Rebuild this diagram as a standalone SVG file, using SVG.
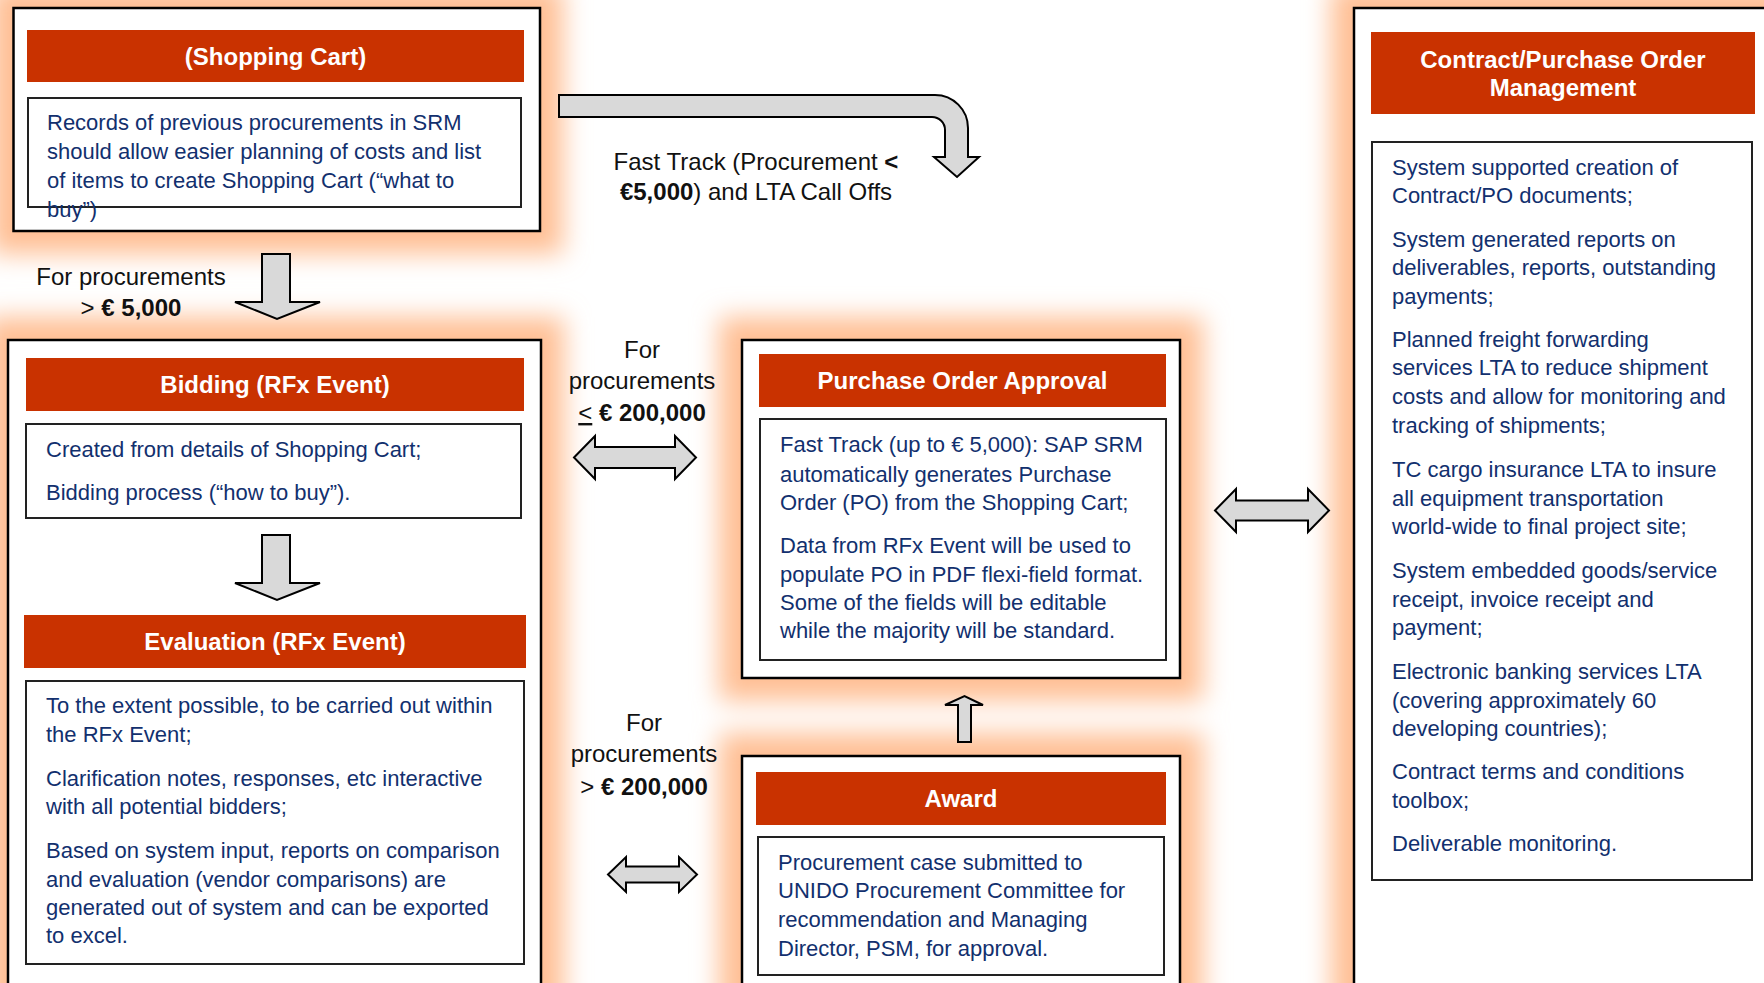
<svg xmlns="http://www.w3.org/2000/svg" width="1764" height="983" viewBox="0 0 1764 983">
<defs>
<filter id="glow" x="-20%" y="-20%" width="140%" height="140%">
<feGaussianBlur stdDeviation="13"/>
</filter>
<style>
.gl{fill:#FFBF94}
.outer{fill:#FFFFFF;stroke:#000000;stroke-width:2.5}
.hdr{fill:#C93200}
.inner{fill:none;stroke:#222222;stroke-width:2}
.ttl{font-family:"Liberation Sans",Arial,sans-serif;font-weight:bold;font-size:24px;fill:#FFFFFF;text-anchor:middle}
.body{font-family:"Liberation Sans",Arial,sans-serif;font-size:22px;fill:#12306E}
.lbl{font-family:"Liberation Sans",Arial,sans-serif;font-size:24px;fill:#111111;text-anchor:middle}
.b{font-weight:bold}
.blk{fill:#D9D9D9;stroke:#000000;stroke-width:2;stroke-linejoin:miter}
</style>
</defs>
<rect x="0" y="0" width="1764" height="983" fill="#FFFFFF"/>
<g id="glows" filter="url(#glow)">
<rect class="gl" x="-10" y="-15" width="573" height="269"/>
<rect class="gl" x="-15" y="317" width="579" height="710"/>
<rect class="gl" x="719" y="317" width="484" height="384"/>
<rect class="gl" x="719" y="733" width="484" height="290"/>
<rect class="gl" x="1331" y="-15" width="480" height="1040"/>
</g>
<g id="shopping-cart">
<rect class="outer" x="13.5" y="8" width="526.5" height="223"/>
<rect class="hdr" x="27" y="30" width="497" height="52"/>
<text class="ttl" x="275.5" y="64.5">(Shopping Cart)</text>
<rect class="inner" x="28" y="98" width="493" height="109"/>
<text class="body"><tspan x="47" y="130">Records of previous procurements in SRM</tspan><tspan x="47" y="159">should allow easier planning of costs and list</tspan><tspan x="47" y="188">of items to create Shopping Cart (“what to</tspan><tspan x="47" y="217">buy”)</tspan></text>
</g>
<g id="bidding-evaluation">
<rect class="outer" x="8" y="340" width="533" height="660"/>
<g id="bidding">
<rect class="hdr" x="26" y="358" width="498" height="53"/>
<text class="ttl" x="275" y="393">Bidding (RFx Event)</text>
<rect class="inner" x="26" y="424" width="495" height="94"/>
<text class="body"><tspan x="46" y="457">Created from details of Shopping Cart;</tspan><tspan x="46" y="500">Bidding process (“how to buy”).</tspan></text>
</g>
<g id="evaluation">
<rect class="hdr" x="24" y="615" width="502" height="53"/>
<text class="ttl" x="275" y="650">Evaluation (RFx Event)</text>
<rect class="inner" x="26" y="681" width="498" height="283"/>
<text class="body"><tspan x="46" y="713">To the extent possible, to be carried out within</tspan><tspan x="46" y="742">the RFx Event;</tspan><tspan x="46" y="786">Clarification notes, responses, etc interactive</tspan><tspan x="46" y="814">with all potential bidders;</tspan><tspan x="46" y="858">Based on system input, reports on comparison</tspan><tspan x="46" y="887">and evaluation (vendor comparisons) are</tspan><tspan x="46" y="915">generated out of system and can be exported</tspan><tspan x="46" y="943">to excel.</tspan></text>
</g>
</g>
<g id="po-approval">
<rect class="outer" x="742" y="340" width="438" height="338"/>
<rect class="hdr" x="759" y="354" width="407" height="53"/>
<text class="ttl" x="962.5" y="389">Purchase Order Approval</text>
<rect class="inner" x="760" y="419" width="406" height="241"/>
<text class="body"><tspan x="780" y="452">Fast Track (up to € 5,000): SAP SRM</tspan><tspan x="780" y="482">automatically generates Purchase</tspan><tspan x="780" y="510">Order (PO) from the Shopping Cart;</tspan><tspan x="780" y="553">Data from RFx Event will be used to</tspan><tspan x="780" y="582">populate PO in PDF flexi-field format.</tspan><tspan x="780" y="610">Some of the fields will be editable</tspan><tspan x="780" y="638">while the majority will be standard.</tspan></text>
</g>
<g id="award">
<rect class="outer" x="742" y="756" width="438" height="244"/>
<rect class="hdr" x="756" y="772" width="410" height="53"/>
<text class="ttl" x="961" y="807">Award</text>
<rect class="inner" x="758" y="837" width="406" height="138"/>
<text class="body"><tspan x="778" y="870">Procurement case submitted to</tspan><tspan x="778" y="898">UNIDO Procurement Committee for</tspan><tspan x="778" y="927">recommendation and Managing</tspan><tspan x="778" y="956">Director, PSM, for approval.</tspan></text>
</g>
<g id="contract-po-management">
<rect class="outer" x="1354" y="8" width="436" height="992"/>
<rect class="hdr" x="1371" y="32" width="384" height="82"/>
<text class="ttl"><tspan x="1563" y="68">Contract/Purchase Order</tspan><tspan x="1563" y="96">Management</tspan></text>
<rect class="inner" x="1372" y="142" width="380" height="738"/>
<text class="body"><tspan x="1392" y="175">System supported creation of</tspan><tspan x="1392" y="203">Contract/PO documents;</tspan><tspan x="1392" y="247">System generated reports on</tspan><tspan x="1392" y="275">deliverables, reports, outstanding</tspan><tspan x="1392" y="304">payments;</tspan><tspan x="1392" y="347">Planned freight forwarding</tspan><tspan x="1392" y="375">services LTA to reduce shipment</tspan><tspan x="1392" y="404">costs and allow for monitoring and</tspan><tspan x="1392" y="433">tracking of shipments;</tspan><tspan x="1392" y="477">TC cargo insurance LTA to insure</tspan><tspan x="1392" y="506">all equipment transportation</tspan><tspan x="1392" y="534">world-wide to final project site;</tspan><tspan x="1392" y="578">System embedded goods/service</tspan><tspan x="1392" y="607">receipt, invoice receipt and</tspan><tspan x="1392" y="635">payment;</tspan><tspan x="1392" y="679">Electronic banking services LTA</tspan><tspan x="1392" y="708">(covering approximately 60</tspan><tspan x="1392" y="736">developing countries);</tspan><tspan x="1392" y="779">Contract terms and conditions</tspan><tspan x="1392" y="808">toolbox;</tspan><tspan x="1392" y="851">Deliverable monitoring.</tspan></text>
</g>
<g id="connectors">
<path class="blk" d="M559,95 H935 A33,33 0 0 1 968,128 V157 H979 L957,177 L934,157 H945 V130 A13,13 0 0 0 932,117 H559 Z"/>
<polygon class="blk" points="262,254 290,254 290,302 320,302 277,319 235,302 262,302"/>
<polygon class="blk" points="262,535 290,535 290,583 320,583 277,600 235,583 262,583"/>
<polygon class="blk" points="958,742 958,705 945,705 964.5,696 983,705 971,705 971,742"/>
<polygon class="blk" points="574,457.5 595,436 595,447 675,447 675,436 696,457.5 675,479 675,468 595,468 595,479"/>
<polygon class="blk" points="608,874.5 626,857 626,866.5 679,866.5 679,857 697,874.5 679,892 679,882.5 626,882.5 626,892"/>
<polygon class="blk" points="1215,510.5 1236,489 1236,500.5 1308,500.5 1308,489 1329,510.5 1308,532 1308,520.5 1236,520.5 1236,532"/>
<text class="lbl"><tspan x="756" y="170">Fast Track (Procurement <tspan class="b">&lt;</tspan></tspan><tspan x="756" y="200"><tspan class="b">€5,000</tspan>) and LTA Call Offs</tspan></text>
<text class="lbl"><tspan x="131" y="285">For procurements</tspan><tspan x="131" y="316">&gt; <tspan class="b">€ 5,000</tspan></tspan></text>
<text class="lbl"><tspan x="642" y="358">For</tspan><tspan x="642" y="389">procurements</tspan><tspan x="642" y="421"><tspan text-decoration="underline">&lt;</tspan> <tspan class="b">€ 200,000</tspan></tspan></text>
<text class="lbl"><tspan x="644" y="731">For</tspan><tspan x="644" y="762">procurements</tspan><tspan x="644" y="795">&gt; <tspan class="b">€ 200,000</tspan></tspan></text>
</g>
</svg>
